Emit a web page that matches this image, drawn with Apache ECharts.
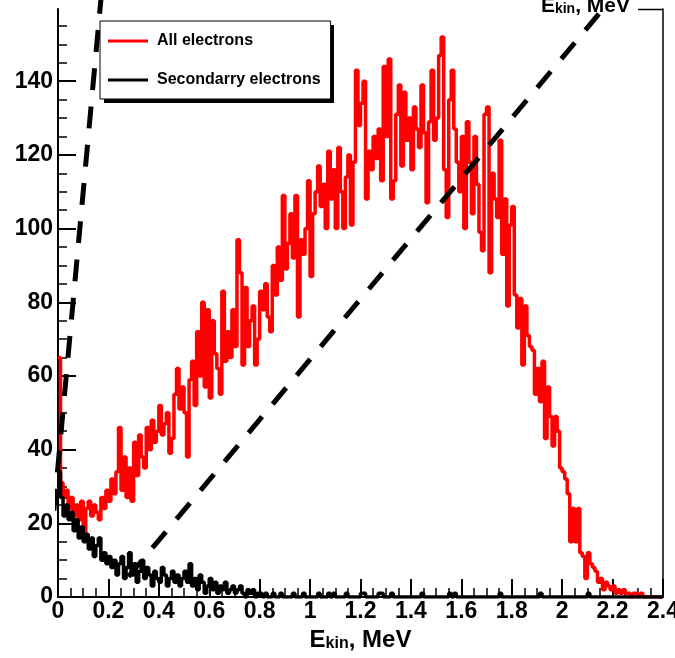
<!DOCTYPE html>
<html><head><meta charset="utf-8">
<script src="https://cdn.jsdelivr.net/npm/echarts@6/dist/echarts.min.js"></script>
<style>html,body{margin:0;padding:0;background:#fff}#c{width:675px;height:658px}</style>
</head><body><div id="c"></div>
<script>
// ---- data ----
const binWidth = 0.01; // MeV per histogram bin (240 bins over 0..2.4)
const allElectrons = [
  65, 31, 27, 29, 24, 27, 22, 25, 21, 26,
  16, 24, 26, 22, 25, 23, 21, 27, 24, 29,
  26, 32, 28, 34, 46, 29, 38, 27, 35, 26,
  42, 33, 44, 38, 35, 46, 40, 48, 42, 45,
  52, 44, 47, 50, 39, 43, 55, 62, 51, 57,
  50, 38, 59, 64, 52, 72, 60, 80, 57, 78,
  54, 75, 66, 62, 55, 83, 64, 72, 65, 78,
  68, 97, 88, 63, 84, 68, 75, 79, 63, 70,
  83, 78, 85, 76, 72, 90, 82, 95, 86, 109,
  89, 96, 104, 92, 109, 76, 97, 93, 100, 113,
  87, 104, 110, 117, 106, 112, 100, 121, 108, 116,
  100, 122, 110, 100, 114, 120, 101, 118, 143, 128,
  134, 140, 108, 121, 116, 125, 119, 127, 113, 144,
  125, 146, 108, 113, 131, 139, 117, 137, 124, 130,
  116, 133, 127, 122, 139, 126, 107, 129, 143, 124,
  130, 147, 152, 116, 103, 135, 143, 127, 118, 110,
  125, 100, 129, 118, 104, 125, 112, 99, 94, 131,
  133, 88, 115, 108, 103, 124, 93, 108, 79, 101,
  106, 82, 73, 81, 63, 79, 71, 68, 67, 55,
  62, 53, 64, 43, 57, 49, 41, 49, 45, 35,
  34, 32, 28, 15, 24, 15, 24, 12, 11, 5,
  12, 9, 8, 7, 4, 5, 2, 4, 3, 2,
  3, 1, 2, 1, 2, 1, 1, 0, 1, 1,
  0, 1, 0, 0, 0, 0, 0, 0, 0, 0
];
const secondaryElectrons = [
  34, 27, 22, 25, 21, 23, 18, 21, 16, 19,
  15, 17, 13, 16, 11, 14, 16, 10, 12, 9,
  11, 8, 10, 6, 9, 11, 5, 8, 12, 6,
  9, 4, 7, 10, 5, 8, 6, 3, 7, 5,
  4, 8, 6, 3, 5, 7, 4, 6, 3, 5,
  7, 4, 9, 3, 5, 2, 6, 4, 1, 3,
  5, 2, 4, 1, 3, 2, 4, 1, 2, 3,
  1, 2, 3, 1, 0, 2, 1, 2, 0, 1,
  1, 0, 1, 0, 0, 1, 0, 0, 1, 0,
  0, 0, 0, 1, 0, 0, 0, 1, 0, 0,
  0, 0, 0, 1, 0, 0, 0, 1, 0, 1,
  0, 0, 0, 0, 1, 0, 0, 0, 0, 0,
  1, 1, 0, 0, 0, 0, 0, 1, 1, 0,
  0, 0, 1, 0, 0, 0, 0, 0, 0, 0,
  0, 0, 0, 0, 1, 0, 0, 0, 0, 0,
  0, 0, 0, 0, 0, 1, 0, 1, 0, 0,
  0, 0, 0, 0, 0, 0, 0, 0, 0, 0,
  0, 0, 0, 0, 0, 1, 0, 0, 0, 0,
  0, 0, 0, 0, 0, 0, 0, 0, 0, 0,
  0, 1, 0, 0, 0, 0, 0, 0, 0, 0,
  0, 0, 0, 0, 0, 0, 0, 0, 0, 0,
  1, 0, 0, 0, 0, 0, 0, 0, 0, 0,
  0, 0, 0, 0, 0, 0, 0, 0, 0, 0,
  0, 0, 0, 0, 0, 0, 0, 0, 0, 0
];
const seriesNames = ['All electrons', 'Secondarry electrons'];
const xMin = 0, xMax = 2.4, xInterval = 0.2;
const yMin = 0, yMax = 159.6;
const yMajorTicks = [0, 20, 40, 60, 80, 100, 120, 140];
const yMinorTicks = [5, 10, 15, 25, 30, 35, 45, 50, 55, 65, 70, 75, 85, 90, 95,
  105, 110, 115, 125, 130, 135, 145, 150, 155];
const steepLine = [[-0.048, 0], [0.174, 165]];
const diagLine = [[0.274, 5.1], [2.162, 159.6]];

// ---- build ----
function histPoints(vals) {
  const pts = vals.map((v, i) => [i * binWidth, v]);
  pts.push([vals.length * binWidth, vals[vals.length - 1]]);
  return pts;
}
const FONT = "'Liberation Sans', Arial, Helvetica, sans-serif";
const chart = echarts.init(document.getElementById('c'), null, { renderer: 'canvas' });

const baseY = {
  type: 'value', min: yMin, max: yMax, position: 'left',
  splitLine: { show: false }
};

chart.setOption({
  animation: false,
  backgroundColor: '#fff',
  grid: { left: 58, right: 12, top: 9, bottom: 61, containLabel: false, outerBoundsMode: 'none' },
  legend: {
    data: seriesNames, orient: 'vertical', left: 100, top: 21,
    icon: 'rect', itemWidth: 40, itemHeight: 3,
    padding: [11, 10, 10, 8], itemGap: 21,
    backgroundColor: '#fff', borderColor: '#000', borderWidth: 1, z: 8,
    textStyle: { fontFamily: FONT, fontWeight: 'bold', fontSize: 16, color: '#000', lineHeight: 18, padding: [0, 0, 0, 4] }
  },
  xAxis: {
    type: 'value', min: xMin, max: xMax, interval: xInterval,
    name: '{E|E}{s|kin}{E|, MeV}', nameLocation: 'middle', nameGap: 30,
    nameTextStyle: {
      rich: {
        E: { fontFamily: FONT, fontWeight: 'bold', fontSize: 24, color: '#000', lineHeight: 24 },
        s: { fontFamily: FONT, fontWeight: 'bold', fontSize: 16, color: '#000', lineHeight: 12, verticalAlign: 'bottom' }
      }
    },
    axisLine: { show: true, onZero: false, lineStyle: { color: '#000', width: 2 } },
    axisTick: { show: true, inside: true, length: 18, lineStyle: { color: '#000', width: 2 } },
    minorTick: { show: true, splitNumber: 4, length: 9, lineStyle: { color: '#000', width: 1.5 } },
    axisLabel: { fontFamily: FONT, fontWeight: 'bold', fontSize: 23, color: '#000', margin: 3, showMinLabel: true, showMaxLabel: true },
    splitLine: { show: false }
  },
  yAxis: [
    Object.assign({}, baseY, {
      axisLine: { show: true, onZero: false, lineStyle: { color: '#000', width: 2 } },
      axisTick: { show: true, inside: true, length: 18, customValues: yMajorTicks, lineStyle: { color: '#000', width: 2 } },
      axisLabel: { customValues: yMajorTicks, fontFamily: FONT, fontWeight: 'bold', fontSize: 23, color: '#000', margin: 5 }
    }),
    Object.assign({}, baseY, {
      axisLine: { show: false },
      axisTick: { show: true, inside: true, length: 9, customValues: yMinorTicks, lineStyle: { color: '#000', width: 1.5 } },
      axisLabel: { show: false }
    }),
    Object.assign({}, baseY, {
      position: 'right',
      axisLine: { show: true, onZero: false, lineStyle: { color: '#000', width: 1.5 } },
      axisTick: { show: false },
      axisLabel: { show: false }
    })
  ],
  graphic: [
    // legend drop shadow
    { type: 'rect', z: 7, shape: { x: 104, y: 25, width: 230, height: 78 }, style: { fill: '#000' } },
    { type: 'line', shape: { x1: 638, y1: 9.5, x2: 663, y2: 9.5 }, style: { stroke: '#000', lineWidth: 1.5 }, z: 10 },
    {
      type: 'text', z: 10, x: 630, y: 6,
      style: {
        text: '{E|E}{s|kin}{E|, MeV}', align: 'right', verticalAlign: 'middle',
        rich: {
          E: { fontFamily: FONT, fontWeight: 'bold', fontSize: 21, fill: '#000', lineHeight: 20 },
          s: { fontFamily: FONT, fontWeight: 'bold', fontSize: 14, fill: '#000', lineHeight: 10, verticalAlign: 'bottom' }
        }
      }
    }
  ],
  series: [
    {
      name: seriesNames[0], type: 'line', step: 'end', symbol: 'none', data: histPoints(allElectrons),
      lineStyle: { color: '#ff0000', width: 3.5 }, itemStyle: { color: '#ff0000' }, z: 3
    },
    {
      name: seriesNames[1], type: 'line', step: 'end', symbol: 'none', data: histPoints(secondaryElectrons),
      lineStyle: { color: '#000', width: 3.5 }, itemStyle: { color: '#000' }, z: 4
    },
    {
      name: 'steep', type: 'line', symbol: 'none', clip: false, data: steepLine,
      lineStyle: { color: '#000', width: 5, type: [22, 16.4], dashOffset: 28.6 }, z: 5
    },
    {
      name: 'diag', type: 'line', symbol: 'none', clip: false, data: diagLine,
      lineStyle: { color: '#000', width: 5, type: [21, 16.5], dashOffset: 35.5 }, z: 5
    }
  ]
});
</script>
</body></html>
